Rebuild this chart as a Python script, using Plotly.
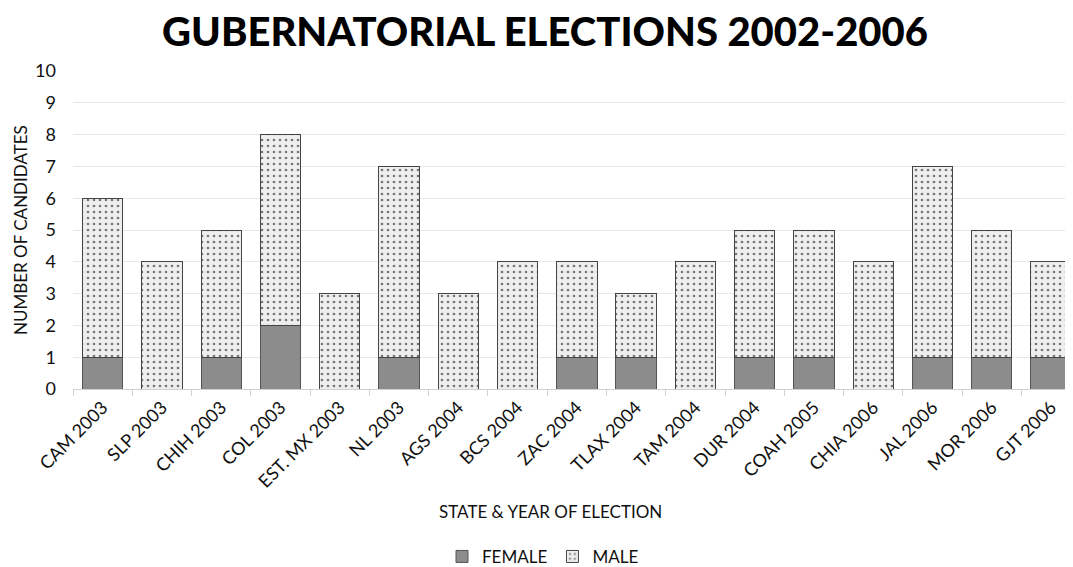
import plotly.graph_objects as go

categories = ["CAM 2003", "SLP 2003", "CHIH 2003", "COL 2003", "EST. MX 2003", "NL 2003",
              "AGS 2004", "BCS 2004", "ZAC 2004", "TLAX 2004", "TAM 2004", "DUR 2004",
              "COAH 2005", "CHIA 2006", "JAL 2006", "MOR 2006", "GJT 2006"]
female = [1, 0, 1, 2, 0, 1, 0, 0, 1, 1, 0, 1, 1, 0, 1, 1, 1]
male = [5, 4, 4, 6, 3, 6, 3, 4, 3, 2, 4, 4, 4, 4, 6, 4, 3]
y_ticks = list(range(0, 11))

FONT = "Lato, 'Open Sans', sans-serif"

fig = go.Figure()
fig.add_trace(go.Bar(
    x=categories, y=female, name="FEMALE",
    marker=dict(color="#8c8c8c", line=dict(color="#555555", width=1)),
))
fig.add_trace(go.Bar(
    x=categories, y=male, name="MALE",
    marker=dict(color="#eeeeee", line=dict(color="#444444", width=1),
                pattern=dict(shape=".", fgcolor="#000000", bgcolor="#eeeeee",
                             size=6, solidity=0.16)),
))

fig.update_layout(
    barmode="stack",
    bargap=0.32,
    width=1073, height=567,
    margin=dict(l=65, r=8, t=63, b=186, autoexpand=False),
    paper_bgcolor="white", plot_bgcolor="white",
    font=dict(family=FONT, color="#111111", size=17),
    title=dict(text="GUBERNATORIAL ELECTIONS 2002-2006", x=0.5005, xanchor="center",
               y=0.958, yanchor="middle",
               font=dict(size=40, family=FONT, color="#000000", weight=900)),
    showlegend=True,
    legend=dict(orientation="h", x=0.47, xanchor="center", y=-0.528, yanchor="middle",
                font=dict(size=17), traceorder="normal", itemwidth=30),
    xaxis=dict(tickangle=-45, range=[-0.5, 16.37], showgrid=False, automargin=False,
               ticks="outside", ticklen=6, tickcolor="#d0d0d0", tickson="boundaries",
               showline=True, linecolor="#d0d0d0", tickfont=dict(size=18)),
    yaxis=dict(range=[0, 10], tickvals=y_ticks, showgrid=True, gridcolor="#e8e8e8",
               zeroline=False, showline=False, tickfont=dict(size=18), ticks="",
               automargin=False, ticklabelstandoff=16),
    annotations=[
        dict(text="NUMBER OF CANDIDATES", xref="paper", yref="paper", x=-0.053, y=0.5,
             xanchor="center", yanchor="middle", textangle=-90, showarrow=False,
             font=dict(size=17)),
        dict(text="STATE & YEAR OF ELECTION", xref="paper", yref="paper", x=0.477, y=-0.385,
             xanchor="center", yanchor="middle", showarrow=False, font=dict(size=17)),
    ],
)

fig.write_html("out.html")
